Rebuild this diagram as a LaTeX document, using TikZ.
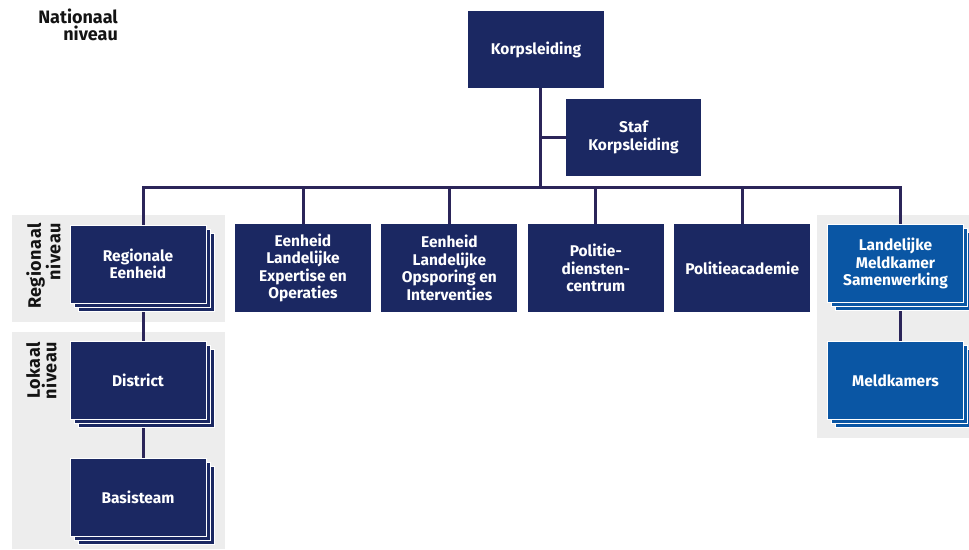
\documentclass[tikz,border=0pt]{standalone}
\usepackage{fontspec}
\setmainfont{Fira Sans}
\usetikzlibrary{positioning, shadows, backgrounds}
\definecolor{navy}{HTML}{1B2862}
\definecolor{lijn}{HTML}{2B2559}
\definecolor{meldblauw}{HTML}{0A56A4}
\definecolor{paneel}{HTML}{EDEDED}
\tikzset{
        unit/.style={fill=navy, text=white, align=center, inner sep=2pt,
                font=\fontsize{15.5}{17.5}\selectfont\bfseries,
                minimum width=136pt, minimum height=88pt},
        stack/.style={unit, fill=#1, draw=white, line width=0.8pt, minimum height=78pt,
                copy shadow={fill=#1, draw=white, shadow xshift=8pt, shadow yshift=-8pt},
                copy shadow={fill=#1, draw=white, shadow xshift=4pt, shadow yshift=-4pt}},
        stack/.default=navy,
        link/.style={draw=lijn, line width=3pt, line cap=rect},
        niveau/.style={font=\fontsize{18}{17}\selectfont\bfseries,
                text=black!92, align=right, inner sep=0pt},
        zijniveau/.style={niveau, rotate=90, anchor=north east,
                font=\fontsize{18}{16.5}\selectfont\bfseries\addfontfeature{LetterSpace=3}}
        }
\begin{document}
\begin{tikzpicture}[x=1pt, y=-1pt]
        \useasboundingbox (0,0) rectangle (969,549);
        % nationaal
        \node[unit, minimum height=77pt] (korps) at (536,49.5) {Korpsleiding};
        \node[unit, minimum height=77pt, minimum width=135pt] (staf) at (633.5,137.5) {Staf\\Korpsleiding};
        \node[unit] (leo) at (303,268) {Eenheid\\Landelijke\\Expertise en\\Operaties};
        \node[unit, right=10pt of leo] (oli) {Eenheid\\Landelijke\\Opsporing en\\Interventies};
        \node[unit, right=10pt of oli] (pdc) {Politie-\\diensten-\\centrum};
        \node[unit, right=10pt of pdc] (pa) {Politieacademie};
        % regionaal en lokaal
        \node[stack] (re) at (138,264) {Regionale\\Eenheid};
        \node[stack] (district) at (138,380.5) {District};
        \node[stack] (basis) at (138,497) {Basisteam};
        % meldkamers
        \node[stack=meldblauw] (lms) at (895.5,263.5) {Landelijke\\Meldkamer\\Samenwerking};
        \node[stack=meldblauw] (mk) at (895.5,380.5) {Meldkamers};
        % niveaus
        \node[niveau, anchor=base east] (natniv) at (118,40) {Nationaal\\niveau};
        \node[zijniveau] (regniv) at (26,223) {Regionaal\\niveau};
        \node[zijniveau] (lokniv) at (26,342) {Lokaal\\niveau};
        \coordinate (trunk) at (540,187);
        \coordinate (busW) at (143,187);
        \coordinate (busE) at (900,187);
        \begin{scope}[on background layer]
                \fill[paneel] (12,215) rectangle (225,322);
                \fill[paneel] (12,332) rectangle (225,549);
                \fill[paneel] (817,215) rectangle (969,438);
                \draw[link] (korps.south -| trunk) -- (trunk)
                            (staf.west) -- (staf.west -| trunk)
                            (busW) -- (busE)
                            (re.north -| busW) -- (busW)
                            (re.south -| busW) -- (district.north -| busW)
                            (district.south -| busW) -- (basis.north -| busW)
                            (leo.north) -- (leo.north |- trunk)
                            (oli.north) -- (oli.north |- trunk)
                            (pdc.north) -- (pdc.north |- trunk)
                            (pa.north) -- (pa.north |- trunk)
                            (lms.north -| busE) -- (busE)
                            (lms.south -| busE) -- (mk.north -| busE);
        \end{scope}
\end{tikzpicture}
\end{document}
